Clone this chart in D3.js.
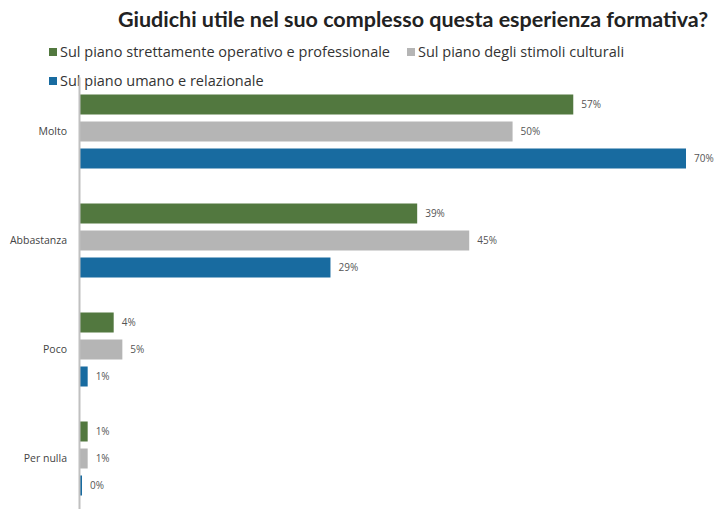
<!DOCTYPE html>
<html><head><meta charset="utf-8">
<script src="https://cdn.jsdelivr.net/npm/d3@7"></script>
<style>body{margin:0;background:#fff;} svg{display:block;}</style>
</head><body>
<script>
const categories = ["Molto", "Abbastanza", "Poco", "Per nulla"];
const seriesNames = ["Sul piano strettamente operativo e professionale", "Sul piano degli stimoli culturali", "Sul piano umano e relazionale"];
const operativo = [57, 39, 4, 1];
const culturali = [50, 45, 5, 1];
const umano = [70, 29, 1, 0];
const colors = ["#52783f", "#b5b5b5", "#186ba0"];

const W = 717, H = 509;
const svg = d3.select("body").append("svg").attr("width", W).attr("height", H);
const font = "'Open Sans', sans-serif";

const x = d3.scaleLinear().domain([0, 70]).range([79, 686]);
const y = d3.scaleBand().domain(categories).range([77, 513]);
const yi = d3.scaleBand().domain([0,1,2]).range([17.5, 91.5]).paddingInner(7/27);

svg.append("text").attr("x", 413).attr("y", 27).attr("text-anchor", "middle")
  .attr("font-family", "Lato, sans-serif").attr("font-weight", "bold").attr("font-size", 21.5)
  .attr("fill", "#222").text("Giudichi utile nel suo complesso questa esperienza formativa?");

// legend
const leg = [{i:0,x:49,y:53,w:342},{i:1,x:407,y:53,w:210},{i:2,x:49,y:82,w:212}];
leg.forEach(l => {
  svg.append("rect").attr("x", l.x).attr("y", l.y-5).attr("width", 8).attr("height", 8).attr("fill", colors[l.i]);
  svg.append("text").attr("x", l.x+11).attr("y", l.y+4).attr("font-family", font).attr("font-size", 14.5)
    .attr("fill", "#333").text(seriesNames[l.i]);
});

const data = [operativo, culturali, umano];
categories.forEach((c, ci) => {
  data.forEach((arr, si) => {
    const v = arr[ci];
    const y0 = y(c) + yi(si);
    const w = Math.max(x(v) - x(0), 3);
    svg.append("rect").attr("x", x(0)).attr("y", y0).attr("width", w).attr("height", yi.bandwidth())
      .attr("fill", colors[si]);
    svg.append("text").attr("x", x(0) + w + 8).attr("y", y0 + yi.bandwidth()/2 + 3.5)
      .attr("font-family", font).attr("font-size", 10).attr("fill", "#555").text(v + "%");
  });
});

const axis = svg.append("g").attr("transform", "translate(79,0)")
  .call(d3.axisLeft(y).tickSize(0).tickPadding(12));
axis.select(".domain").attr("stroke", "#c0c0c0").attr("stroke-width", 2);
axis.selectAll("text").attr("font-family", font).attr("font-size", 10.5).attr("fill", "#444");
</script>
</body></html>
